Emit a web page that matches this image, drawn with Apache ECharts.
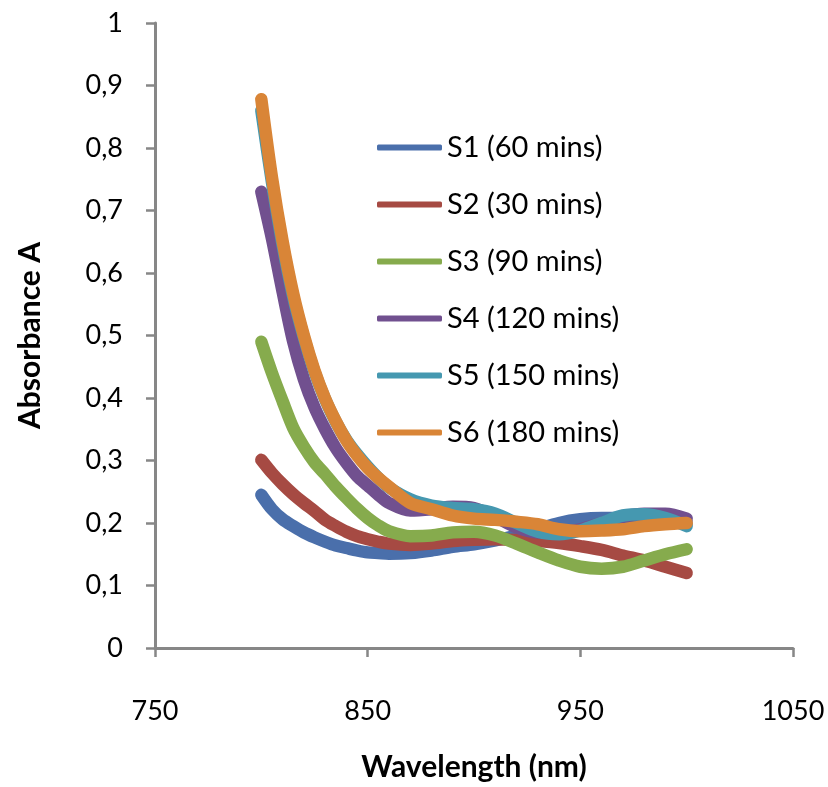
<!DOCTYPE html>
<html>
<head>
<meta charset="utf-8">
<script src="https://cdn.jsdelivr.net/npm/echarts@6/dist/echarts.min.js"></script>
<style>
  html, body { margin: 0; padding: 0; background: #ffffff; }
  #chart { width: 828px; height: 787px; }
</style>
</head>
<body>
<div id="chart"></div>
<script>
// wavelength samples (nm)
var wavelengths = [800, 805, 810, 815, 820, 825, 830, 835, 840, 845, 850, 855, 860,
                   870, 880, 890, 900, 910, 920, 930, 940, 950, 960, 970, 980, 990, 1000];

var seriesNames = ["S1 (60 mins)", "S2 (30 mins)", "S3 (90 mins)",
                   "S4 (120 mins)", "S5 (150 mins)", "S6 (180 mins)"];

var s1 = [0.245, 0.222, 0.206, 0.195, 0.185, 0.177, 0.170, 0.164, 0.160, 0.156, 0.153, 0.152, 0.151,
          0.152, 0.156, 0.162, 0.166, 0.172, 0.180, 0.190, 0.200, 0.206, 0.208, 0.208, 0.208, 0.205, 0.200];
var s2 = [0.301, 0.280, 0.262, 0.246, 0.232, 0.219, 0.205, 0.195, 0.186, 0.179, 0.174, 0.170, 0.167,
          0.165, 0.167, 0.171, 0.173, 0.174, 0.173, 0.171, 0.168, 0.163, 0.157, 0.148, 0.140, 0.130, 0.120];
var s3 = [0.490, 0.440, 0.395, 0.352, 0.322, 0.297, 0.278, 0.258, 0.240, 0.223, 0.208, 0.196, 0.187,
          0.179, 0.180, 0.185, 0.186, 0.180, 0.167, 0.153, 0.140, 0.130, 0.127, 0.130, 0.140, 0.150, 0.158];
var s4 = [0.730, 0.655, 0.570, 0.490, 0.430, 0.385, 0.350, 0.320, 0.296, 0.275, 0.260, 0.245, 0.232,
          0.220, 0.222, 0.226, 0.224, 0.210, 0.193, 0.185, 0.185, 0.190, 0.200, 0.210, 0.215, 0.215, 0.207];
var s5 = [0.860, 0.745, 0.645, 0.562, 0.497, 0.442, 0.398, 0.362, 0.333, 0.310, 0.290, 0.272, 0.257,
          0.238, 0.228, 0.224, 0.222, 0.215, 0.200, 0.186, 0.182, 0.188, 0.200, 0.212, 0.214, 0.208, 0.195];
var s6 = [0.878, 0.753, 0.651, 0.567, 0.500, 0.444, 0.399, 0.363, 0.332, 0.308, 0.288, 0.272, 0.258,
          0.232, 0.222, 0.212, 0.207, 0.205, 0.202, 0.198, 0.190, 0.187, 0.188, 0.190, 0.195, 0.198, 0.200];

var allValues = [s1, s2, s3, s4, s5, s6];
var colors = ["#4a6fab", "#a64a43", "#86ab4d", "#71508f", "#4598b0", "#d98537"];

var chart = echarts.init(document.getElementById("chart"));
var font = "Lato, 'Open Sans', sans-serif";
var axisGray = "#878787";

function toPairs(vals) {
    var out = [];
    for (var i = 0; i < wavelengths.length; i++) {
        out.push([wavelengths[i], vals[i]]);
    }
    return out;
}

var series = [];
for (var k = 0; k < seriesNames.length; k++) {
    series.push({
        name: seriesNames[k],
        type: "line",
        data: toPairs(allValues[k]),
        showSymbol: false,
        smooth: 0.3,
        lineStyle: { width: 12.5, color: colors[k], cap: "round", join: "round" },
        itemStyle: { color: colors[k] }
    });
}

chart.setOption({
    animation: false,
    backgroundColor: "#ffffff",
    grid: { left: 155, right: 35, top: 23, bottom: 133, containLabel: false },
    legend: {
        orient: "vertical",
        left: 377,
        top: 133,
        padding: 0,
        icon: "roundRect",
        itemWidth: 65,
        itemHeight: 6,
        itemGap: 28,
        textStyle: { fontFamily: font, fontSize: 29, color: "#000000", padding: [0, 0, 0, 0] },
        data: seriesNames
    },
    xAxis: {
        type: "value",
        min: 750,
        max: 1050,
        interval: 100,
        name: "Wavelength (nm)",
        nameLocation: "middle",
        nameGap: 104,
        nameTextStyle: { fontFamily: font, fontSize: 30, fontWeight: "bold", color: "#000000" },
        splitLine: { show: false },
        axisLine: { lineStyle: { color: axisGray, width: 3 } },
        axisTick: { show: true, inside: false, length: 9, lineStyle: { color: axisGray, width: 2.5 } },
        axisLabel: {
            fontFamily: font, fontSize: 27, color: "#000000", margin: 50,
            formatter: function (v) { return String(v); }
        }
    },
    yAxis: {
        type: "value",
        min: 0,
        max: 1,
        interval: 0.1,
        name: "Absorbance A",
        nameLocation: "middle",
        nameGap: 110,
        nameRotate: 90,
        nameTextStyle: { fontFamily: font, fontSize: 30, fontWeight: "bold", color: "#000000" },
        splitLine: { show: false },
        axisLine: { show: true, lineStyle: { color: axisGray, width: 3 } },
        axisTick: { show: true, inside: false, length: 9, lineStyle: { color: axisGray, width: 2.5 } },
        axisLabel: {
            fontFamily: font, fontSize: 27, color: "#000000", margin: 32,
            formatter: function (v) {
                return (Math.round(v * 10) / 10).toString().replace(".", ",");
            }
        }
    },
    series: series
});
</script>
</body>
</html>
